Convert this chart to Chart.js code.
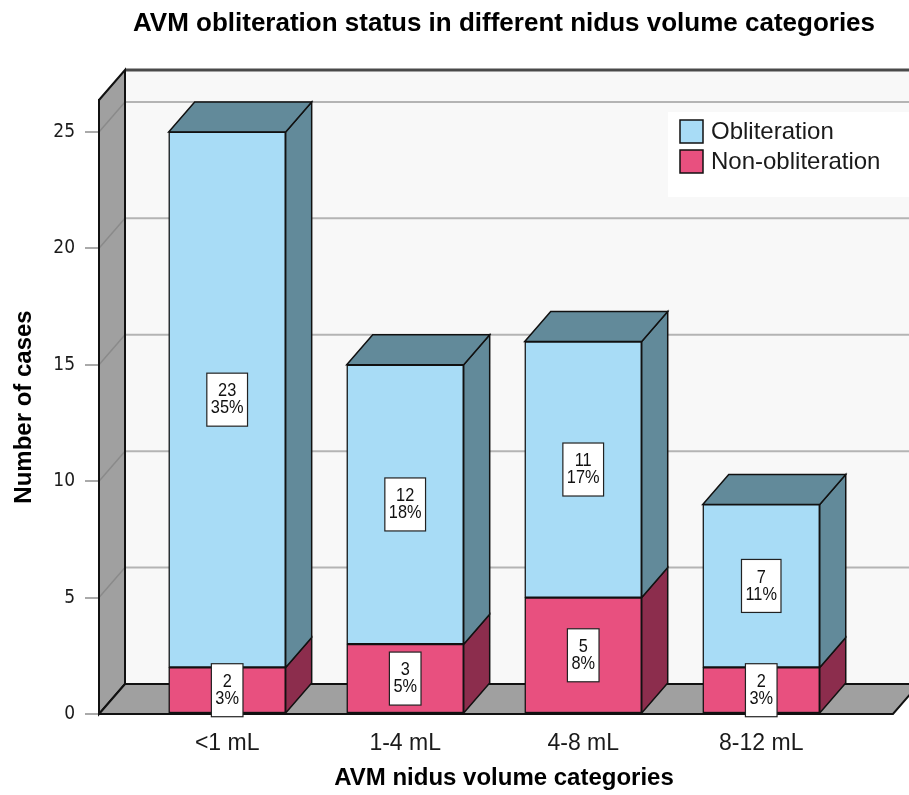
<!DOCTYPE html>
<html>
<head>
<meta charset="utf-8">
<title>AVM obliteration status</title>
<script src="https://cdn.jsdelivr.net/npm/chart.js@4.4.1/dist/chart.umd.min.js"></script>
<style>
  html, body { margin: 0; padding: 0; background: #fff; }
  canvas { display: block; }
</style>
</head>
<body>
<canvas id="chart" width="909" height="795"></canvas>
<script>
// Case counts per nidus volume category
const categories = ['<1 mL', '1-4 mL', '4-8 mL', '8-12 mL'];
const obliteration = [23, 12, 11, 7];
const nonObliteration = [2, 3, 5, 2];
const yTicks = [0, 5, 10, 15, 20, 25];

const totalCases = [...obliteration, ...nonObliteration].reduce((a, b) => a + b, 0);

// axis ranges (x is linear so bar centres can sit off the wall)
const xMin = -0.72;
const xMax = 3.83;
const yMax = 26.37;
const floorEnd = 3.74;

// depth offset of the 3D box
const DX = 26;
const DY = -30;

const edge = '#111111';
const wallGray = '#a0a0a0';
const narrowFont = "'Liberation Sans Narrow', 'Arial Narrow', 'DejaVu Sans Condensed', sans-serif";
const labelFont = "19px 'Liberation Sans', Arial, sans-serif";

Chart.defaults.font.family = "'Liberation Sans', Arial, sans-serif";

function polygon(ctx, pts, fill, stroke, lw) {
  ctx.beginPath();
  ctx.moveTo(pts[0][0], pts[0][1]);
  for (let i = 1; i < pts.length; i++) ctx.lineTo(pts[i][0], pts[i][1]);
  ctx.closePath();
  if (fill) {
    ctx.fillStyle = fill;
    ctx.fill();
  }
  if (stroke) {
    ctx.strokeStyle = stroke;
    ctx.lineWidth = lw || 1.5;
    ctx.stroke();
  }
}

// Walls, floor and grid of the 3D box
const boxPlugin = {
  id: 'box3d',
  beforeDraw(chart) {
    const { ctx, chartArea: a, scales: { x, y } } = chart;
    const floorY = y.getPixelForValue(0);
    const floorRight = x.getPixelForValue(floorEnd);
    const backLeft = a.left + DX;
    const backRight = a.right + DX + 20;

    ctx.save();
    // back wall
    ctx.fillStyle = '#f8f8f8';
    ctx.fillRect(backLeft, a.top + DY, backRight - backLeft, floorY - a.top);

    // grid lines on back wall
    ctx.strokeStyle = '#b4b4b4';
    ctx.lineWidth = 2;
    yTicks.forEach(v => {
      if (v === 0) return;
      const py = y.getPixelForValue(v) + DY;
      ctx.beginPath();
      ctx.moveTo(backLeft, py);
      ctx.lineTo(backRight, py);
      ctx.stroke();
    });

    // top edge of back wall
    ctx.strokeStyle = '#4a4a4a';
    ctx.lineWidth = 3;
    ctx.beginPath();
    ctx.moveTo(backLeft, a.top + DY);
    ctx.lineTo(backRight, a.top + DY);
    ctx.stroke();

    // left wall
    polygon(ctx, [[a.left, a.top], [backLeft, a.top + DY], [backLeft, floorY + DY], [a.left, floorY]], wallGray);
    ctx.strokeStyle = '#8a8a8a';
    ctx.lineWidth = 1.5;
    yTicks.forEach(v => {
      if (v === 0) return;
      const py = y.getPixelForValue(v);
      ctx.beginPath();
      ctx.moveTo(a.left, py);
      ctx.lineTo(backLeft, py + DY);
      ctx.stroke();
    });
    polygon(ctx, [[a.left, a.top], [backLeft, a.top + DY], [backLeft, floorY + DY], [a.left, floorY]], null, edge, 2);

    // floor
    polygon(ctx, [[a.left, floorY], [floorRight, floorY], [floorRight + DX, floorY + DY], [backLeft, floorY + DY]], wallGray, edge, 2);
    ctx.restore();
  },

  // side and top faces of the bars
  beforeDatasetsDraw(chart) {
    const { ctx } = chart;
    const last = chart.data.datasets.length - 1;
    ctx.save();
    chart.data.datasets.forEach((ds, di) => {
      chart.getDatasetMeta(di).data.forEach(bar => {
        const { x, y, base, width } = bar.getProps(['x', 'y', 'base', 'width'], true);
        const left = x - width / 2;
        const right = x + width / 2;
        polygon(ctx, [[right, y], [right + DX, y + DY], [right + DX, base + DY], [right, base]], ds.sideColor, edge, 1.5);
        if (di === last) {
          polygon(ctx, [[left, y], [left + DX, y + DY], [right + DX, y + DY], [right, y]], ds.sideColor, edge, 1.5);
        }
      });
    });
    ctx.restore();
  },

  // count and percentage boxes on each segment (narrowed Arial-style text)
  afterDatasetsDraw(chart) {
    const { ctx } = chart;
    const squeeze = 0.86;
    ctx.save();
    ctx.font = labelFont;
    ctx.textAlign = 'center';
    ctx.textBaseline = 'middle';
    chart.data.datasets.forEach((ds, di) => {
      chart.getDatasetMeta(di).data.forEach((bar, i) => {
        const { x, y, base } = bar.getProps(['x', 'y', 'base'], true);
        const v = ds.data[i].y;
        const lines = [String(v), Math.round(v / totalCases * 100) + '%'];
        const cy = (y + base) / 2;
        const w = Math.max(...lines.map(t => ctx.measureText(t).width)) * squeeze + 8;
        const h = 53;
        ctx.fillStyle = '#ffffff';
        ctx.fillRect(x - w / 2, cy - h / 2, w, h);
        ctx.strokeStyle = '#222';
        ctx.lineWidth = 1.2;
        ctx.strokeRect(x - w / 2, cy - h / 2, w, h);
        ctx.fillStyle = '#111';
        ctx.save();
        ctx.translate(x, cy);
        ctx.scale(squeeze, 1);
        ctx.fillText(lines[0], 0, -8.5);
        ctx.fillText(lines[1], 0, 8.5);
        ctx.restore();
      });
    });
    ctx.restore();
  },

  // legend in the top right corner of the box
  afterDraw(chart) {
    const { ctx, chartArea: a } = chart;
    const lx = a.right - 241;
    const ly = a.top + 12;
    ctx.save();
    ctx.fillStyle = '#ffffff';
    ctx.fillRect(lx, ly, 260, 85);
    ctx.font = "24px 'Liberation Sans', Arial, sans-serif";
    ctx.textBaseline = 'middle';
    ctx.textAlign = 'left';
    const items = chart.data.datasets.slice().reverse();
    items.forEach((ds, k) => {
      const sy = ly + 8 + k * 30;
      ctx.fillStyle = ds.backgroundColor;
      ctx.fillRect(lx + 12, sy, 23, 23);
      ctx.strokeStyle = edge;
      ctx.lineWidth = 1.5;
      ctx.strokeRect(lx + 12, sy, 23, 23);
      ctx.fillStyle = '#1a1a1a';
      ctx.fillText(ds.label, lx + 43, sy + 12.5);
    });
    ctx.restore();
  }
};

const toPoints = arr => arr.map((v, i) => ({ x: i, y: v }));

new Chart(document.getElementById('chart'), {
  type: 'bar',
  data: {
    datasets: [
      {
        label: 'Non-obliteration',
        data: toPoints(nonObliteration),
        backgroundColor: '#e8507f',
        sideColor: '#8c2d4d'
      },
      {
        label: 'Obliteration',
        data: toPoints(obliteration),
        backgroundColor: '#a8dcf6',
        sideColor: '#628a9a'
      }
    ]
  },
  options: {
    responsive: false,
    animation: false,
    devicePixelRatio: 1,
    datasets: {
      bar: {
        barThickness: 117,
        borderWidth: 1.5,
        borderColor: edge,
        borderSkipped: false
      }
    },
    layout: { padding: 0 },
    plugins: {
      legend: { display: false },
      tooltip: { enabled: false },
      title: {
        display: true,
        fullSize: false,
        text: 'AVM obliteration status in different nidus volume categories',
        color: '#000',
        font: { size: 26, weight: 'bold' },
        padding: { top: 8, bottom: 60.8 }
      }
    },
    scales: {
      x: {
        type: 'linear',
        stacked: true,
        offset: false,
        min: xMin,
        max: xMax,
        afterBuildTicks: s => { s.ticks = categories.map((_, i) => ({ value: i })); },
        afterFit: s => { s.height = 81; },
        ticks: {
          callback: v => categories[v],
          font: { size: 23 },
          color: '#1a1a1a',
          padding: 15.7,
          maxRotation: 0,
          autoSkip: false
        },
        grid: { display: false, drawTicks: false, offset: false },
        border: { display: false },
        title: {
          display: true,
          text: 'AVM nidus volume categories',
          color: '#000',
          font: { size: 24, weight: 'bold' },
          padding: { top: 6, bottom: 2 }
        }
      },
      y: {
        stacked: true,
        min: 0,
        max: yMax,
        afterBuildTicks: s => { s.ticks = yTicks.map(v => ({ value: v })); },
        afterFit: s => { s.width = 99; },
        ticks: {
          font: { size: 19, family: narrowFont },
          color: '#1a1a1a',
          padding: 10
        },
        grid: {
          drawOnChartArea: false,
          drawTicks: true,
          tickLength: 14,
          color: '#aaaaaa',
          lineWidth: 2
        },
        border: { display: true, color: edge, width: 2 },
        title: {
          display: true,
          text: 'Number of cases',
          color: '#000',
          font: { size: 24, weight: 'bold' },
          padding: { top: 9.6, bottom: 0 }
        }
      }
    }
  },
  plugins: [boxPlugin]
});
</script>
</body>
</html>
